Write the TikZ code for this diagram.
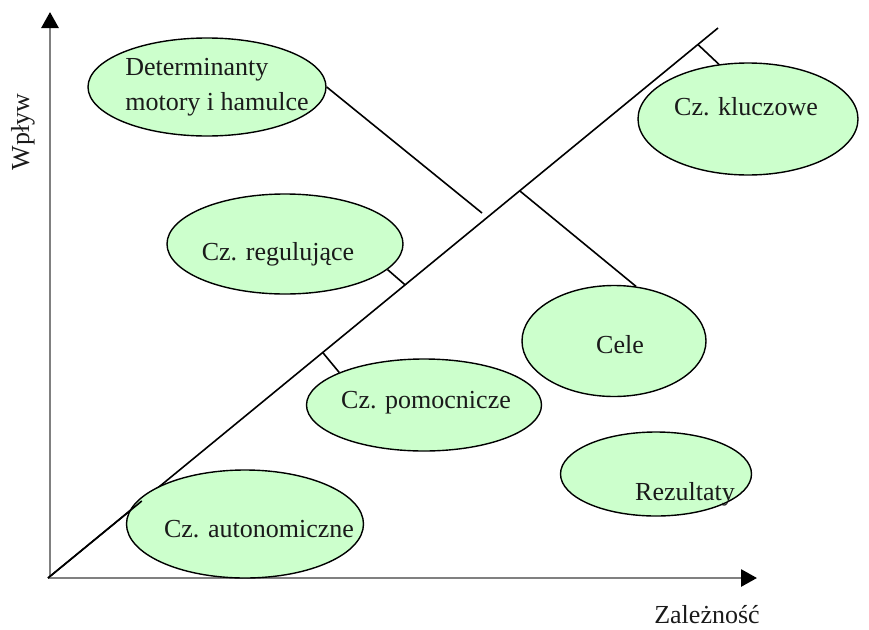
\documentclass[tikz,border=0pt]{standalone}
\usepackage{fontspec}
\setmainfont{Liberation Serif}
\usetikzlibrary{shapes.geometric,arrows.meta,calc}
\definecolor{bubble}{HTML}{CCFFCC}
\definecolor{axisgray}{HTML}{808080}
\definecolor{ink}{HTML}{1A1A1A}
\begin{document}
\begin{tikzpicture}[x=1pt,y=-1pt,
  bubble/.style={ellipse,draw=black,line width=1.4pt,fill=bubble,inner sep=0pt},
  lbl/.style={font=\fontsize{26}{35}\selectfont,text=ink,inner sep=0pt},
  axisline/.style={draw=axisgray,line width=2.8pt,-{Triangle[length=16pt,width=17pt,color=black]}},
  link/.style={draw=black,line width=1.6pt}]
\useasboundingbox (0,0) rectangle (869,629);
% axes
\coordinate (O) at (48,578);
\coordinate (ytip) at (50,12);
\coordinate (xtip) at (757,578);
\draw[axisline] (50,579) -- (ytip);
\draw[axisline] (48,578) -- (xtip);
\node[lbl,rotate=90] (wplyw) at (23,132) {Wpływ};
\node[lbl,anchor=base] (zal) at (707,623) {Zależność};
% diagonal
\coordinate (D) at (718,28);
\draw[link] (O) -- (D);
% ellipses
\node[bubble,minimum width=238pt,minimum height=98pt] (det) at (207,87) {};
\node[bubble,minimum width=220pt,minimum height=112pt] (klu) at (748,119) {};
\node[bubble,minimum width=236pt,minimum height=100pt] (reg) at (285,244) {};
\node[bubble,minimum width=184pt,minimum height=111pt] (cele) at (614,341) {};
\node[bubble,minimum width=235pt,minimum height=92pt] (pom) at (424,405) {};
\node[bubble,minimum width=191pt,minimum height=84pt] (rez) at (656,474) {};
\node[bubble,minimum width=237pt,minimum height=108pt] (aut) at (245,524) {};
% labels
\node[lbl,align=left] (tdet) at (217,87) {Determinanty\\motory i hamulce};
\node[lbl,anchor=base] (tklu) at (746,115) {Cz. kluczowe};
\node[lbl,anchor=base] (treg) at (278,260) {Cz. regulujące};
\node[lbl,anchor=base] (tcele) at (620,353) {Cele};
\node[lbl,anchor=base] (tpom) at (426,408) {Cz. pomocnicze};
\node[lbl,anchor=base] (trez) at (685,500) {Rezultaty};
\node[lbl,anchor=base] (taut) at (259,537) {Cz. autonomiczne};
% diagonal drawn over the edge of the lowest ellipse
\draw[link] (O) -- ($(O)!0.14!(D)$);
% connectors
\coordinate (dend) at (482,213);
\coordinate (jklu) at ($(O)!0.970!(D)$);
\coordinate (jcele) at ($(O)!0.704!(D)$);
\coordinate (jreg) at ($(O)!0.533!(D)$);
\coordinate (jpom) at ($(O)!0.41!(D)$);
\draw[link] (det.east) -- (dend);
\draw[link] (jklu) -- (klu.118);
\draw[link] (jcele) -- (cele.68);
\draw[link] (jreg) -- (reg.-14);
\draw[link] (jpom) -- (pom.159);
\end{tikzpicture}
\end{document}
